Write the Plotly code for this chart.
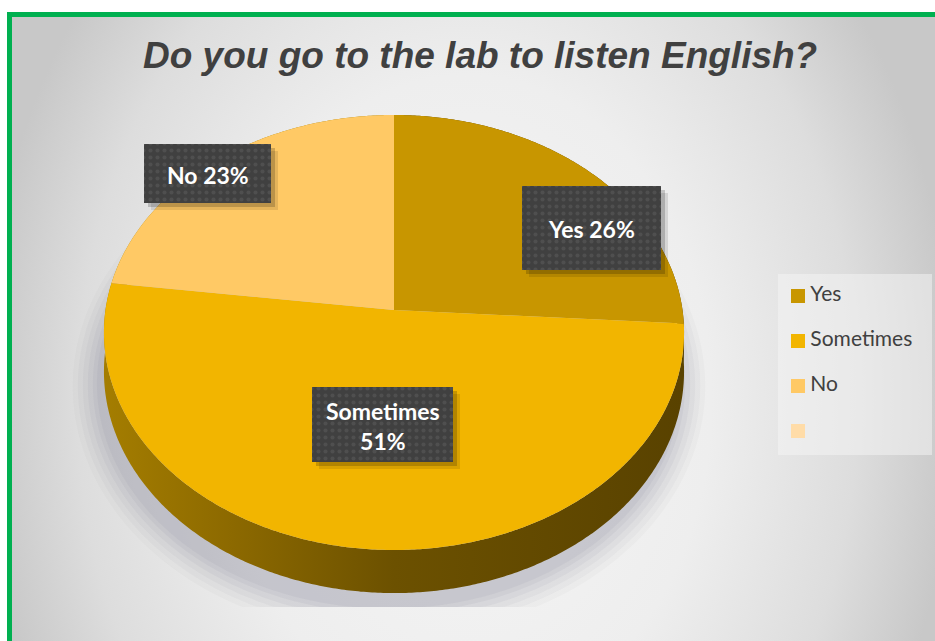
import numpy as np
import plotly.graph_objects as go

# ---- survey results ----
categories = ["Yes", "Sometimes", "No", ""]
values = [26, 51, 23, 0]
colors = ["#C89600", "#F2B500", "#FFC965", "#FFDCA8"]
side_colors = [
    [[0, "#5E4600"], [1, "#5A4300"]],
    [[0, "#A47D00"], [0.22, "#8C6900"], [0.5, "#6C5100"], [1, "#594200"]],
    [[0, "#A98200"], [1, "#8A6A00"]],
    [[0, "#B08A30"], [1, "#B08A30"]],
]
title_text = "Do you go to the lab to listen English?"

# ---- canvas / pie geometry (pixel units) ----
W, H = 935, 641
CX, CY = 394.0, 310.0      # projected pie centre
A, B = 288.5, 215.2         # horizontal / depth radii
K = 0.1034                  # perspective strength
DEPTH = 38.6                # thickness of the pie


def project(theta_deg, drop=0.0, grow=0.0, dx=0.0):
    t = np.radians(theta_deg)
    u, v = np.sin(t), -np.cos(t)
    w = 1 - K * v
    x = CX + dx + (A + grow) * u / w
    y = CY + ((B + grow) * v + drop) / w
    return x, y


def rect_xy(x0, y0, x1, y1):
    return [x0, x1, x1, x0, x0], [y0, y0, y1, y1, y0]


fig = go.Figure()

# chart area background: grey base, then a soft radial wash
wx, wy = rect_xy(12, 17, W, H)
fig.add_trace(go.Scatter(
    x=wx, y=wy, fill="toself", mode="none", hoverinfo="skip", showlegend=False,
    fillcolor="#C8C8C8",
))
# oversized gradient box (clipped to the plot area) so the light centre
# sits low and wide
gx, gy = rect_xy(-20, -250, 955, 1050)
fig.add_trace(go.Scatter(
    x=gx, y=gy, fill="toself", mode="none", hoverinfo="skip", showlegend=False,
    fillgradient=dict(type="radial",
                      colorscale=[[0, "#F6F6F6"], [0.5, "#EEEEEE"],
                                  [0.8, "#DDDDDD"], [1, "#C8C8C8"]]),
))
# white page margin outside the frame
for x0, y0, x1, y1 in [(0, 0, W, 12), (0, 0, 7, H)]:
    mx, my = rect_xy(x0, y0, x1, y1)
    fig.add_trace(go.Scatter(
        x=mx, y=my, fill="toself", mode="none", hoverinfo="skip",
        showlegend=False, fillcolor="#FFFFFF",
    ))

# soft drop shadow under the pie
theta_full = np.linspace(0, 360, 361)
for grow, op in [(26, 0.04), (21, 0.05), (16, 0.06), (11, 0.07), (6, 0.08), (2, 0.08)]:
    sx, sy = project(theta_full, drop=DEPTH + 12, grow=grow, dx=-5)
    sy = np.minimum(sy, 607)
    fig.add_trace(go.Scatter(
        x=sx, y=sy, fill="toself", mode="none", hoverinfo="skip", showlegend=False,
        fillcolor=f"rgba(120,120,140,{op})",
    ))

# slice angles (clockwise from 12 o'clock)
total = float(sum(values))
bounds = np.concatenate([[0], np.cumsum(values) / total * 360])

# pie sides (extrusion)
for i in range(len(values)):
    a0, a1 = bounds[i], bounds[i + 1]
    if a1 - a0 <= 0:
        continue
    th = np.linspace(a0, a1, max(int((a1 - a0) * 2), 3))
    tx, ty = project(th)
    bx2, by2 = project(th[::-1], drop=DEPTH)
    fig.add_trace(go.Scatter(
        x=np.concatenate([tx, bx2, tx[:1]]), y=np.concatenate([ty, by2, ty[:1]]),
        fill="toself", mode="none", hoverinfo="skip", showlegend=False,
        fillgradient=dict(type="horizontal", colorscale=side_colors[i],
                          start=CX - A, stop=CX + A),
    ))

# pie top faces
for i in range(len(values)):
    a0, a1 = bounds[i], bounds[i + 1]
    if a1 - a0 <= 0:
        continue
    th = np.linspace(a0, a1, max(int((a1 - a0) * 2), 3))
    tx, ty = project(th)
    fig.add_trace(go.Scatter(
        x=np.concatenate([[CX], tx, [CX]]), y=np.concatenate([[CY], ty, [CY]]),
        fill="toself", mode="none", fillcolor=colors[i],
        name=categories[i], hoverinfo="skip", showlegend=False,
    ))

# data labels: dark boxes with a soft shadow
label_boxes = {
    "Yes": (522, 186, 661, 270),
    "Sometimes": (312, 387, 453, 462),
    "No": (144, 144, 271, 203),
}
for name, (x0, y0, x1, y1) in label_boxes.items():
    for off, op in [(7, 0.10), (4, 0.18)]:
        rx, ry = rect_xy(x0 + off, y0 + off, x1 + off, y1 + off)
        fig.add_trace(go.Scatter(
            x=rx, y=ry, fill="toself", mode="none", hoverinfo="skip", showlegend=False,
            fillcolor=f"rgba(0,0,0,{op})",
        ))
    rx, ry = rect_xy(x0, y0, x1, y1)
    fig.add_trace(go.Scatter(
        x=rx, y=ry, fill="toself", mode="none", hoverinfo="skip", showlegend=False,
        fillcolor="#404040",
        fillpattern=dict(shape=".", bgcolor="#404040", fgcolor="#5E5E5E",
                         size=7, solidity=0.25),
    ))
    v = values[categories.index(name)]
    sep = "<br>" if name == "Sometimes" else " "
    fig.add_annotation(
        x=(x0 + x1) / 2, y=(y0 + y1) / 2 + 1, text=f"<b>{name}{sep}{v}%</b>",
        showarrow=False, xanchor="center", yanchor="middle",
        font=dict(family="Lato", size=23, color="#FFFFFF"),
    )

# legend panel
lx, ly = rect_xy(778, 274, 932, 455)
fig.add_trace(go.Scatter(
    x=lx, y=ly, fill="toself", mode="none", hoverinfo="skip", showlegend=False,
    fillcolor="rgba(245,245,245,0.5)",
))
legend_y = [296 + 45 * i for i in range(len(categories))]
fig.add_trace(go.Scatter(
    x=[798] * len(categories), y=legend_y, mode="markers+text",
    marker=dict(symbol="square", size=14, color=colors, line=dict(width=0)),
    text=["\u2009" + c for c in categories], textposition="middle right",
    textfont=dict(family="Lato", size=21, color="#404040"),
    hoverinfo="skip", showlegend=False,
))

# title
fig.add_annotation(
    x=480, y=55, text=title_text, showarrow=False,
    xanchor="center", yanchor="middle",
    font=dict(family="Liberation Sans", size=37, color="#404040",
              weight="bold", style="italic"),
)

# green frame (top and left edges visible)
fig.add_shape(type="line", x0=7, x1=W + 5, y0=14.5, y1=14.5,
              line=dict(color="#00B050", width=5), layer="above")
fig.add_shape(type="line", x0=9.5, x1=9.5, y0=12, y1=H + 5,
              line=dict(color="#00B050", width=5), layer="above")

fig.update_layout(
    width=W, height=H, autosize=False,
    margin=dict(l=0, r=0, t=0, b=0),
    paper_bgcolor="#FFFFFF", plot_bgcolor="#FFFFFF",
    xaxis=dict(range=[0, W], visible=False, fixedrange=True),
    yaxis=dict(range=[H, 0], visible=False, fixedrange=True),
    showlegend=False,
)

fig.write_html("out.html")
